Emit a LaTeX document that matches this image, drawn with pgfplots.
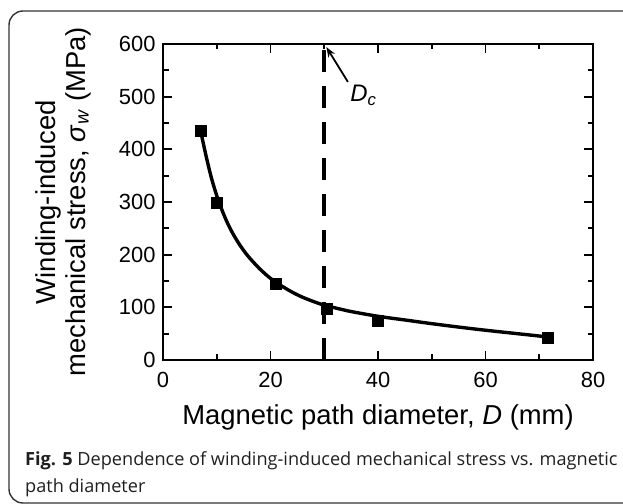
\documentclass[border=0pt]{standalone}
\usepackage{fontspec}
\setmainfont{Liberation Sans}
\newfontfamily\capfont{Open Sans}
\usepackage{pgfplots}
\pgfplotsset{compat=1.18}
\usetikzlibrary{arrows.meta}
\begin{document}
\begin{tikzpicture}[x=1bp,y=1bp]
\useasboundingbox (0,0) rectangle (623,504);
\clip (0,0) rectangle (623,504);
\draw[line width=1.4bp, black!80, rounded corners=14bp] (9,1) rectangle (700,493);
\begin{axis}[
  at={(163bp,144bp)}, anchor=south west,
  scale only axis, width=430bp, height=316bp,
  xmin=0, xmax=80, ymin=0, ymax=600,
  xtick={0,20,40,60,80}, ytick={0,100,200,300,400,500,600},
  minor x tick num=1, minor y tick num=1,
  tick align=inside,
  major tick length=9bp, minor tick length=5.5bp,
  tick style={line width=1.8bp, black},
  axis line style={line width=2.4bp},
  /pgf/number format/assume math mode=true,
  tick label style={font=\fontsize{22}{24}\selectfont},
  xticklabel style={yshift=-9bp},
  yticklabel style={xshift=-4bp},
  xlabel={Magnetic path diameter, \textit{D} (mm)},
  xlabel style={at={(axis description cs:0.5,0)}, anchor=base, yshift=-65bp, font=\fontsize{27.5}{30}\selectfont},
  ylabel={Winding-induced\\mechanical stress, \textit{σ}\textsubscript{\textit{w}} (MPa)},
  ylabel style={at={(axis description cs:-0.2326,0.5)}, anchor=center, rotate=0, align=center, font=\fontsize{27.5}{30}\selectfont},
  clip=false,
]
\addplot[line width=3.6bp, black, dash pattern=on 22bp off 14bp] coordinates {(30,0) (30,600)};
\addplot[line width=3.4bp, black, smooth, tension=0.5] coordinates {
(7,435) (8,388) (9,346) (10,312) (11,284) (12,260) (13,240) (14,223) (15,208) (16,195)
(18,173) (20,155) (22,141) (24,129) (26,119) (28,111) (30,104) (32,99) (35,92)
(40,83) (45,76) (50,69) (55,62.5) (60,56.5) (65,51) (70,45.5) (71.5,43.5)};
\addplot[only marks, mark=square*, mark size=5.4bp, black] coordinates {
(7,435) (10,298) (21,145) (30.5,98) (40,75) (71.5,42)};
\draw[-{Stealth[length=10bp,width=7.5bp]}, line width=1.8bp] (axis cs:34.4,528) -- (axis cs:30.4,594);
\node[anchor=base west, inner sep=0pt, font=\fontsize{24}{26}\selectfont] at (axis cs:34.8,490) {\textit{D}\textsubscript{\textit{c}}};
\end{axis}
\node[anchor=base west, inner sep=0pt, font=\capfont\fontsize{18.2}{22}\selectfont, text=black!88] at (25,38) {\textbf{Fig. 5} Dependence of winding-induced mechanical stress vs. magnetic};
\node[anchor=base west, inner sep=0pt, font=\capfont\fontsize{18.2}{22}\selectfont, text=black!88] at (25,11) {path diameter};
\end{tikzpicture}
\end{document}
